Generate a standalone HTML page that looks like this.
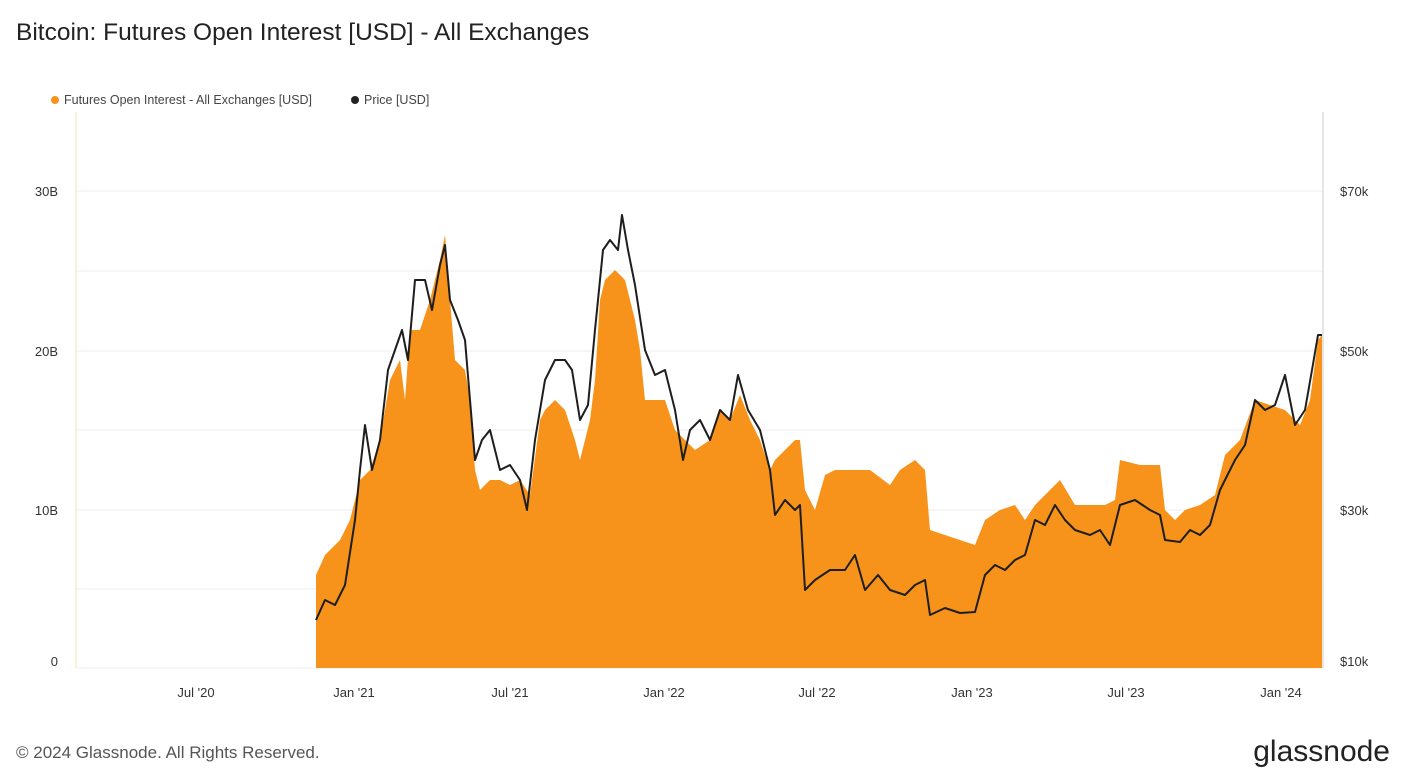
<!DOCTYPE html>
<html><head><meta charset="utf-8"><style>
html,body{margin:0;padding:0;background:#fff;}
body{width:1401px;height:775px;overflow:hidden;font-family:"Liberation Sans",sans-serif;}
</style></head><body>
<svg width="1401" height="775" xmlns="http://www.w3.org/2000/svg" font-family="Liberation Sans, sans-serif">
<text x="16" y="40" font-size="24.5" fill="#222">Bitcoin: Futures Open Interest [USD] - All Exchanges</text>
<circle cx="55" cy="100" r="4" fill="#f7931a"/>
<text x="64" y="104" font-size="12.5" fill="#444">Futures Open Interest - All Exchanges [USD]</text>
<circle cx="355" cy="100" r="4" fill="#222"/>
<text x="364" y="104" font-size="12.5" fill="#444">Price [USD]</text>
<g stroke="#ececec" stroke-width="1">
<line x1="76" y1="191" x2="1323" y2="191"/><line x1="76" y1="271" x2="1323" y2="271"/>
<line x1="76" y1="351" x2="1323" y2="351"/><line x1="76" y1="430" x2="1323" y2="430"/>
<line x1="76" y1="510" x2="1323" y2="510"/><line x1="76" y1="589" x2="1323" y2="589"/>
<line x1="76" y1="668" x2="1323" y2="668"/>
</g>
<line x1="76" y1="112" x2="76" y2="668" stroke="#f3e6b0"/>
<line x1="1323" y1="112" x2="1323" y2="668" stroke="#ccc"/>
<g font-size="13" fill="#333">
<text x="58" y="196" text-anchor="end">30B</text><text x="58" y="356" text-anchor="end">20B</text>
<text x="58" y="515" text-anchor="end">10B</text><text x="58" y="666" text-anchor="end">0</text>
<text x="1340" y="196">$70k</text><text x="1340" y="356">$50k</text>
<text x="1340" y="515">$30k</text><text x="1340" y="666">$10k</text>
</g>
<g font-size="13" fill="#333" text-anchor="middle">
<text x="196" y="697">Jul '20</text><text x="354" y="697">Jan '21</text><text x="510" y="697">Jul '21</text>
<text x="664" y="697">Jan '22</text><text x="817" y="697">Jul '22</text><text x="972" y="697">Jan '23</text>
<text x="1126" y="697">Jul '23</text><text x="1281" y="697">Jan '24</text>
</g>
<polygon fill="#f7931a" points="316,668 316,575 325,555 340,540 350,520 360,480 370,470 380,440 390,380 400,360 405,400 410,330 420,330 430,300 440,260 445,235 450,300 455,360 465,370 470,400 475,470 480,490 490,480 500,480 510,485 520,480 530,495 540,420 545,410 555,400 565,410 575,440 580,460 590,420 595,380 600,300 605,280 615,270 625,280 635,320 640,350 645,400 655,400 665,400 675,430 685,440 695,450 710,440 720,410 730,420 740,395 750,420 760,440 770,470 775,460 785,450 795,440 800,440 805,490 815,510 825,475 835,470 850,470 870,470 890,485 900,470 915,460 925,470 930,530 945,535 960,540 975,545 985,520 1000,510 1015,505 1025,520 1035,505 1045,495 1060,480 1075,505 1090,505 1105,505 1115,500 1120,460 1140,465 1160,465 1165,510 1175,520 1185,510 1200,505 1215,495 1225,455 1240,440 1255,400 1270,405 1285,410 1300,425 1310,400 1318,340 1322,335 1322,668"/>
<polyline fill="none" stroke="#1e1e1e" stroke-width="2" stroke-linejoin="round" points="316,620 325,600 335,605 345,585 355,520 360,470 365,425 372,470 380,440 388,370 395,350 402,330 408,360 415,280 425,280 432,310 440,265 445,245 450,300 458,320 465,340 470,400 475,460 482,440 490,430 500,470 510,465 520,480 527,510 535,440 545,380 555,360 565,360 572,370 580,420 588,405 595,330 603,250 610,240 618,250 622,215 628,250 635,285 645,350 655,375 665,370 675,410 683,460 690,430 700,420 710,440 720,410 730,420 738,375 748,410 760,430 770,470 775,515 785,500 795,510 800,505 805,590 815,580 830,570 845,570 855,555 865,590 878,575 890,590 905,595 915,585 925,580 930,615 945,608 960,613 975,612 985,575 995,565 1005,570 1015,560 1025,555 1035,520 1045,525 1055,505 1065,520 1075,530 1090,535 1100,530 1110,545 1120,505 1135,500 1150,510 1160,515 1165,540 1180,542 1190,530 1200,535 1210,525 1220,490 1235,460 1245,445 1255,400 1265,410 1275,405 1285,375 1295,425 1305,410 1312,370 1318,335 1322,335"/>
<text x="16" y="758" font-size="17" fill="#555">© 2024 Glassnode. All Rights Reserved.</text>
<text x="1390" y="761" font-size="30" fill="#222" text-anchor="end">glassnode</text>
</svg>
</body></html>
